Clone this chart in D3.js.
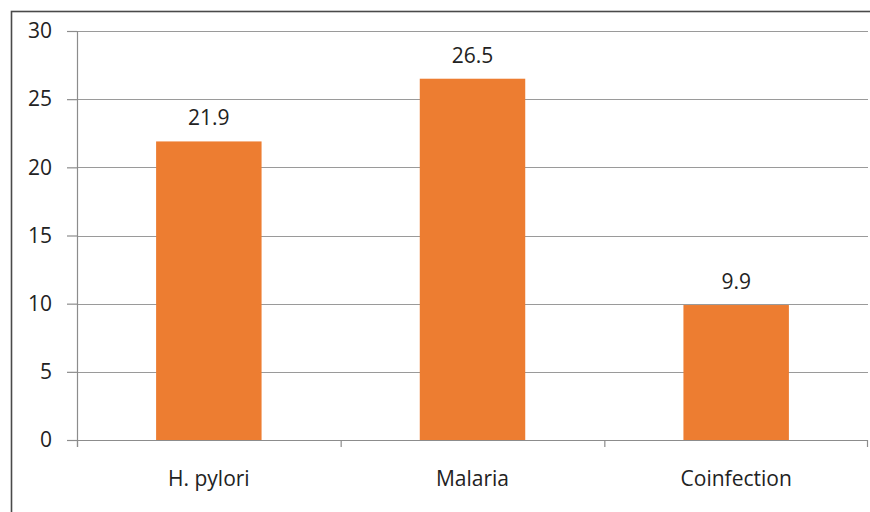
<!DOCTYPE html>
<html>
<head>
<meta charset="utf-8">
<script src="https://cdn.jsdelivr.net/npm/d3@7"></script>
<style>
  html, body { margin: 0; padding: 0; background: #fff; }
  svg { display: block; }
  text { font-family: "Open Sans", "Liberation Sans", sans-serif; fill: #222; }
</style>
</head>
<body>
<svg id="chart" width="870" height="512"></svg>
<script>
// Prevalence by infection group (%)
const categories = ["H. pylori", "Malaria", "Coinfection"];
const values = [21.9, 26.5, 9.9];
const yTicks = [0, 5, 10, 15, 20, 25, 30];

const svg = d3.select("#chart");
const W = 870, H = 512;
const margin = { top: 31, right: 2, bottom: 72, left: 77 };
const innerW = W - margin.left - margin.right;
const innerH = H - margin.top - margin.bottom;
const fontSize = "21px";

// Outer frame (left and top edges visible in the canvas)
svg.append("rect")
  .attr("x", 11.5).attr("y", 11.5)
  .attr("width", W + 10).attr("height", H + 10)
  .attr("fill", "none")
  .attr("stroke", "#4a4a4a")
  .attr("stroke-width", 1.6);

const g = svg.append("g").attr("transform", `translate(${margin.left},${margin.top})`);

const x = d3.scaleBand()
  .domain(categories)
  .range([0, innerW])
  .paddingInner(0.6)
  .paddingOuter(0.3);

const y = d3.scaleLinear().domain([0, 30]).range([innerH, 0]);

// Horizontal gridlines
g.append("g")
  .selectAll("line")
  .data(yTicks.filter(d => d > 0))
  .join("line")
  .attr("x1", 0).attr("x2", innerW)
  .attr("y1", d => Math.round(y(d)) + 0.5)
  .attr("y2", d => Math.round(y(d)) + 0.5)
  .attr("stroke", "#9a9a9a")
  .attr("stroke-width", 1.2);

// Y axis
const yAxis = g.append("g")
  .call(d3.axisLeft(y).tickValues(yTicks).tickSize(10).tickPadding(15).tickFormat(d3.format("d")));
yAxis.select(".domain").attr("stroke", "#8c8c8c").attr("stroke-width", 1.2)
  .attr("d", `M0.5,${innerH + 7}V0`);
yAxis.selectAll(".tick line").attr("stroke", "#8c8c8c").attr("stroke-width", 1.2);
yAxis.selectAll(".tick text")
  .style("font-size", fontSize)
  .style("font-family", "'Open Sans', sans-serif")
  .attr("fill", "#222");

// Bars
g.append("g")
  .selectAll("rect")
  .data(values)
  .join("rect")
  .attr("x", (d, i) => x(categories[i]))
  .attr("y", d => y(d))
  .attr("width", x.bandwidth())
  .attr("height", d => innerH - y(d))
  .attr("fill", "#ed7d31");

// X axis line with tick marks at category boundaries
const step = x.step();
const xAxis = g.append("g").attr("transform", `translate(0,${innerH})`);
xAxis.append("line")
  .attr("x1", 0).attr("x2", innerW)
  .attr("y1", 0.5).attr("y2", 0.5)
  .attr("stroke", "#8c8c8c").attr("stroke-width", 1.2);
xAxis.selectAll("line.tk")
  .data(d3.range(categories.length + 1))
  .join("line")
  .attr("class", "tk")
  .attr("x1", i => Math.min(i * step, innerW - 1) + 0.5)
  .attr("x2", i => Math.min(i * step, innerW - 1) + 0.5)
  .attr("y1", 0).attr("y2", 7)
  .attr("stroke", "#8c8c8c").attr("stroke-width", 1.2);

// Category labels
xAxis.selectAll("text")
  .data(categories)
  .join("text")
  .attr("x", d => x(d) + x.bandwidth() / 2)
  .attr("y", 46)
  .attr("text-anchor", "middle")
  .style("font-size", fontSize)
  .text(d => d);

// Value labels
g.append("g")
  .selectAll("text")
  .data(values)
  .join("text")
  .attr("x", (d, i) => x(categories[i]) + x.bandwidth() / 2)
  .attr("y", d => y(d) - 16)
  .attr("text-anchor", "middle")
  .style("font-size", fontSize)
  .text(d => d3.format(".1f")(d));
</script>
</body>
</html>
